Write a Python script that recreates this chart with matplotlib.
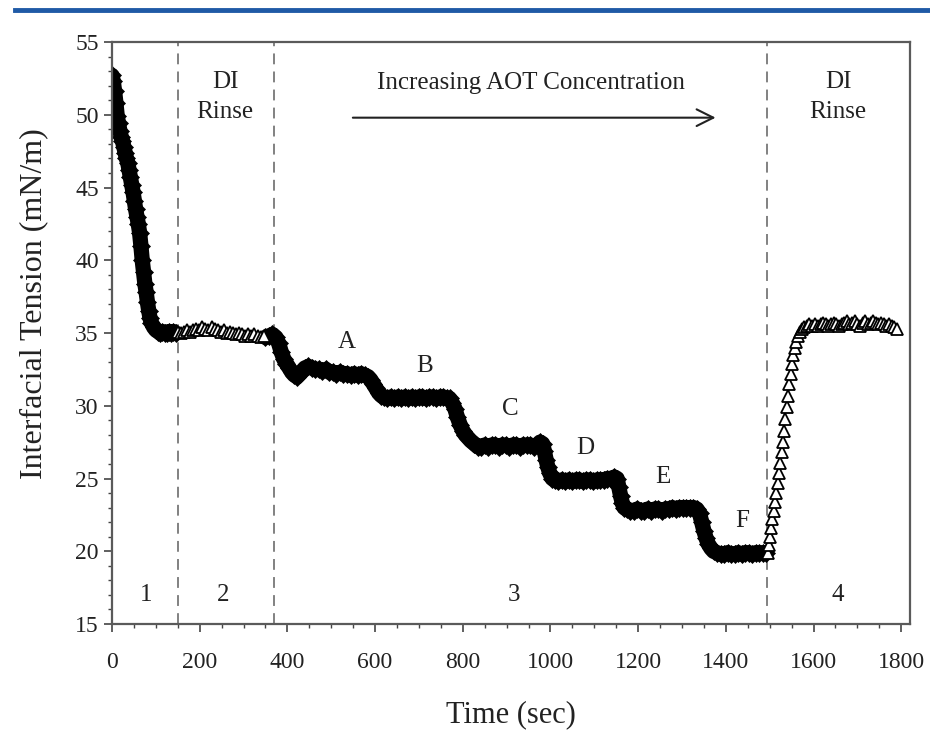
import numpy as np
import matplotlib
matplotlib.use('Agg')
import matplotlib.pyplot as plt
from matplotlib.lines import Line2D
from matplotlib.ticker import MultipleLocator

# Region 1: initial adsorption (filled markers)
t_stage1 = [0, 3, 6, 9, 12, 15, 18, 21, 24, 27, 30, 33, 36, 39, 42, 45, 48, 51,
            54, 57, 60, 63, 66, 69, 72, 75, 78, 81, 84, 87, 90, 95, 100, 105,
            110, 115, 120, 125, 130, 135, 140, 145]
ift_stage1 = [52.7, 52.3, 51.6, 50.8, 49.9, 49.4, 48.9, 48.5, 48.2, 47.8, 47.4,
              47.0, 46.7, 46.2, 45.7, 45.2, 44.7, 44.1, 43.5, 43.0, 42.5, 41.9,
              41.0, 40.0, 39.2, 38.4, 37.8, 37.1, 36.5, 36.0, 35.7, 35.4, 35.2,
              35.1, 35.0, 35.1, 35.0, 35.0, 35.1, 35.0, 35.1, 35.0]

# Region 2: first DI rinse (open triangles)
t_rinse1 = [150, 157, 164, 171, 178, 185, 192, 199, 206, 213, 220, 227, 234,
            241, 248, 255, 262, 269, 276, 283, 290, 297, 304, 311, 318, 325,
            332, 339, 346]
ift_rinse1 = [35.1, 35.0, 35.1, 35.2, 35.1, 35.2, 35.3, 35.2, 35.4, 35.3, 35.2,
              35.4, 35.3, 35.2, 35.1, 35.2, 35.0, 35.1, 35.0, 34.9, 35.0, 34.9,
              34.8, 34.9, 34.8, 34.9, 34.8, 34.7, 34.8]

# Region 3: stepwise AOT additions A-F (filled markers)
t_aot = [350, 358, 366, 374, 380, 386, 392, 398, 404, 410, 416, 422, 428, 434,
         440, 448, 456, 464, 472, 480, 488, 496, 504, 512, 520, 528, 536, 544,
         552, 560, 568, 576, 584, 590, 596, 602, 608, 614, 620, 628, 636, 644,
         652, 660, 668, 676, 684, 692, 700, 708, 716, 724, 732, 740, 748, 756,
         764, 770, 776, 782, 788, 794, 800, 806, 812, 818, 826, 834, 842, 850,
         858, 866, 874, 882, 890, 898, 906, 914, 922, 930, 938, 946, 954, 962,
         970, 976, 982, 986, 990, 994, 998, 1004, 1010, 1018, 1026, 1034, 1042,
         1050, 1058, 1066, 1074, 1082, 1090, 1098, 1106, 1114, 1122, 1130, 1138,
         1146, 1152, 1156, 1160, 1164, 1168, 1174, 1182, 1190, 1198, 1206, 1214,
         1222, 1230, 1238, 1246, 1254, 1262, 1270, 1278, 1286, 1294, 1302, 1310,
         1318, 1326, 1334, 1340, 1345, 1350, 1355, 1360, 1366, 1372, 1380, 1388,
         1396, 1404, 1412, 1420, 1428, 1436, 1444, 1452, 1460, 1468, 1476, 1484,
         1492]
ift_aot = [34.7, 34.8, 34.9, 34.7, 34.3, 33.7, 33.2, 32.9, 32.6, 32.3, 32.1,
           32.0, 32.2, 32.4, 32.6, 32.7, 32.6, 32.5, 32.5, 32.4, 32.5, 32.3,
           32.3, 32.2, 32.3, 32.2, 32.2, 32.1, 32.2, 32.1, 32.2, 32.1, 32.0,
           31.8, 31.5, 31.2, 30.9, 30.7, 30.6, 30.5, 30.6, 30.5, 30.6, 30.5,
           30.6, 30.5, 30.6, 30.5, 30.6, 30.6, 30.5, 30.6, 30.6, 30.5, 30.6,
           30.6, 30.5, 30.5, 30.2, 29.8, 29.2, 28.7, 28.3, 28.0, 27.8, 27.6,
           27.4, 27.2, 27.2, 27.3, 27.2, 27.3, 27.3, 27.2, 27.3, 27.3, 27.2,
           27.3, 27.3, 27.2, 27.3, 27.3, 27.3, 27.2, 27.3, 27.5, 27.4, 26.9,
           26.3, 25.8, 25.4, 25.0, 24.9, 24.8, 24.9, 24.8, 24.9, 24.8, 24.9,
           24.9, 24.8, 24.9, 24.9, 24.8, 24.9, 24.9, 24.9, 25.0, 25.0, 25.1,
           25.0, 24.4, 23.8, 23.3, 23.0, 22.9, 22.8, 22.8, 22.9, 22.8, 22.8,
           22.9, 22.8, 22.9, 22.9, 22.8, 22.9, 22.9, 23.0, 22.9, 23.0, 23.0,
           23.0, 23.0, 23.0, 22.9, 22.6, 22.0, 21.4, 20.9, 20.5, 20.2, 20.0,
           19.9, 19.8, 19.8, 19.9, 19.8, 19.8, 19.9, 19.8, 19.9, 19.9, 19.8,
           19.9, 19.9, 19.9, 19.9]

# Region 4: second DI rinse (open triangles)
t_rinse2 = [1496, 1498, 1500, 1503, 1506, 1509, 1512, 1515, 1518, 1521, 1524,
            1527, 1530, 1533, 1536, 1539, 1542, 1545, 1548, 1551, 1554, 1557,
            1560, 1564, 1568, 1573, 1578, 1584, 1590, 1597, 1604, 1610, 1616,
            1622, 1628, 1634, 1640, 1646, 1652, 1658, 1664, 1670, 1676, 1682,
            1688, 1694, 1700, 1706, 1712, 1718, 1724, 1730, 1736, 1742, 1748,
            1754, 1760, 1766, 1772, 1778, 1784, 1790]
ift_rinse2 = [19.9, 20.4, 21.0, 21.6, 22.2, 22.8, 23.4, 24.0, 24.7, 25.4, 26.1,
              26.8, 27.5, 28.3, 29.1, 29.9, 30.7, 31.5, 32.2, 32.9, 33.5, 34.0,
              34.4, 34.8, 35.1, 35.3, 35.4, 35.5, 35.6, 35.5, 35.6, 35.5, 35.6,
              35.7, 35.6, 35.5, 35.6, 35.7, 35.6, 35.5, 35.6, 35.7, 35.8, 35.6,
              35.7, 35.8, 35.6, 35.5, 35.7, 35.8, 35.6, 35.7, 35.8, 35.7, 35.6,
              35.7, 35.6, 35.5, 35.6, 35.5, 35.4, 35.3]

stage_bounds = [150, 370, 1495]
step_labels = ['A', 'B', 'C', 'D', 'E', 'F']
step_pos = [(536, 34.4), (714, 32.7), (908, 29.8), (1080, 27.1), (1257, 25.1), (1437, 22.1)]
region_labels = ['1', '2', '3', '4']
region_x = [78, 253, 917, 1656]

plt.rcParams['font.family'] = ['Liberation Serif', 'DejaVu Serif']

fig = plt.figure(figsize=(9.3, 7.32), dpi=100)
ax = fig.add_axes([0.1204, 0.1475, 0.8581, 0.7951])

# blue rule along the top of the page
fig.add_artist(Line2D([0.016, 1.0], [0.986, 0.986], transform=fig.transFigure,
                      color='#1f5aa6', linewidth=3.5))

# dense filled markers merge into a thick band in the original
filled = dict(linestyle='-', linewidth=11, solid_joinstyle='round',
              solid_capstyle='round', marker='D', markersize=9.5, color='black',
              markeredgecolor='black', markeredgewidth=0.5)
opened = dict(linestyle='none', marker='^', markersize=9, markerfacecolor='white',
              markeredgecolor='black', markeredgewidth=1.3)

ax.plot(t_stage1, ift_stage1, **filled)
ax.plot(t_aot, ift_aot, **filled)
ax.plot(t_rinse1, ift_rinse1, **opened)
ax.plot(t_rinse2, ift_rinse2, **opened)

for xb in stage_bounds:
    ax.axvline(xb, color='#777777', linestyle=(0, (6, 4)), linewidth=1.3, zorder=0)

ax.set_xlim(0, 1820)
ax.set_ylim(15, 55)
ax.xaxis.set_major_locator(MultipleLocator(200))
ax.xaxis.set_minor_locator(MultipleLocator(50))
ax.yaxis.set_major_locator(MultipleLocator(5))
ax.yaxis.set_minor_locator(MultipleLocator(1))
ax.tick_params(which='major', direction='out', length=6, width=1.2,
               colors='#444444', labelcolor='#222222', labelsize=17)
ax.tick_params(which='minor', direction='out', length=3, width=1.0, colors='#444444')
ax.tick_params(axis='x', pad=14)
for sp in ax.spines.values():
    sp.set_color('#5a5a5a')
    sp.set_linewidth(1.6)

ax.set_xlabel('Time (sec)', fontsize=22, color='#222222', labelpad=20)
ax.set_ylabel('Interfacial Tension (mN/m)', fontsize=23, color='#222222')
ax.yaxis.set_label_coords(-0.08, 0.55)

txt = dict(fontsize=18, color='#222222', ha='center', va='center')
ax.text(258, 51.2, 'DI\nRinse', linespacing=1.45, **txt)
ax.text(1656, 51.2, 'DI\nRinse', linespacing=1.45, **txt)
ax.text(956, 52.2, 'Increasing AOT Concentration', **txt)
ax.annotate('', xy=(1383, 49.8), xytext=(543, 49.8),
            arrowprops=dict(arrowstyle='->', color='#222222', lw=1.5,
                            mutation_scale=30))
for lab, (x, y) in zip(step_labels, step_pos):
    ax.text(x, y, lab, **txt)
for lab, x in zip(region_labels, region_x):
    ax.text(x, 17.0, lab, **txt)

fig.savefig('out.png', dpi=100)
